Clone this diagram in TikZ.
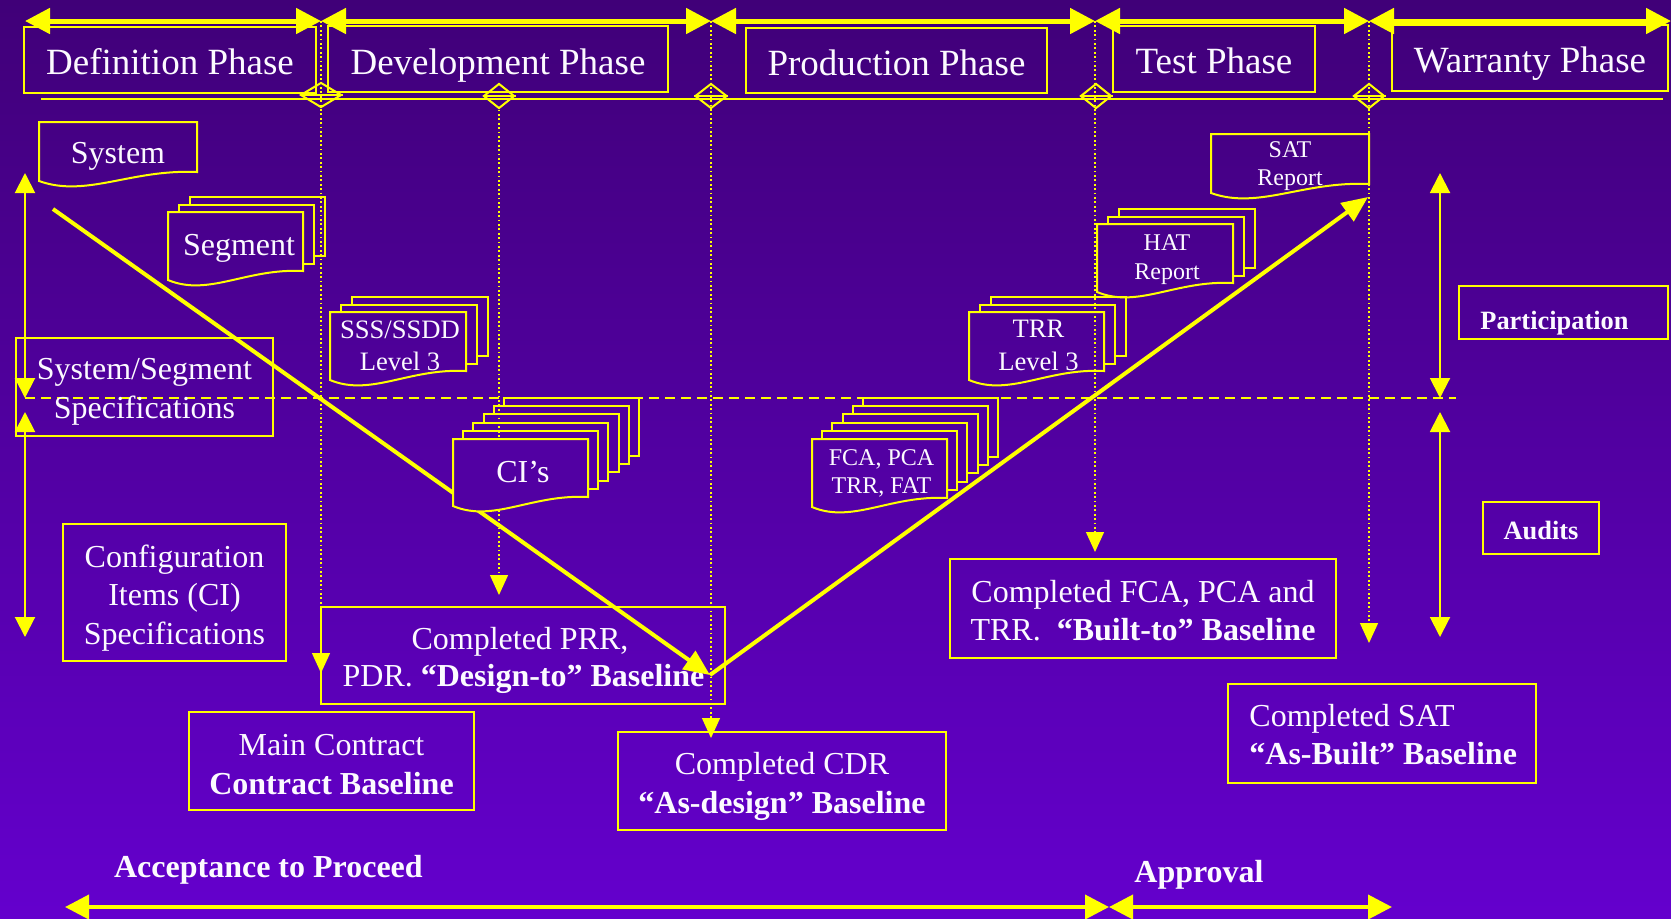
\documentclass[tikz,border=0pt]{standalone}
\usepackage{fontspec}
\setmainfont{Liberation Serif}
\usetikzlibrary{arrows.meta,fit,shapes.geometric}

\definecolor{bgtop}{RGB}{64,0,120}
\definecolor{bgbot}{RGB}{100,0,205}
\definecolor{yel}{RGB}{255,255,0}
\definecolor{txt}{RGB}{252,250,255}

\newcommand{\fsphase}{\fontsize{18.5pt}{22pt}\selectfont}
\newcommand{\fsbox}{\fontsize{16pt}{19.4pt}\selectfont}
\newcommand{\fsdoc}{\fontsize{13.3pt}{16pt}\selectfont}
\newcommand{\fsdocs}{\fontsize{12pt}{14.5pt}\selectfont}
\newcommand{\fstag}{\fontsize{13.2pt}{16pt}\selectfont\bfseries}

% visible edges of the sheets stacked behind a document
% #1 x0, #2 y0, #3 x1, #4 y1, #5 sheets, #6 dx, #7 dy
\newcommand{\sheetsbehind}[7]{%
  \foreach \k in {1,...,#5}{%
    \draw[docline] ({#1+\k*#6},{#2-(\k-1)*#7}) -- ({#1+\k*#6},{#2-\k*#7})
      -- ({#3+\k*#6},{#2-\k*#7}) -- ({#3+\k*#6},{#4-\k*#7})
      -- ({#3+(\k-1)*#6},{#4-\k*#7});
  }}
% front document sheet with a wavy lower edge
% #1 x0, #2 y0, #3 x1, #4 y1 (lower right corner), #5 extra options
\newcommand{\docsheet}[5]{%
  \draw[docline,#5] (#1,{#4+9}) -- (#1,#2) -- (#3,#2) -- (#3,#4)
    .. controls ({#1+0.58*(#3-#1)},{#4-3}) and ({#1+0.3*(#3-#1)},{#4+26}) .. (#1,{#4+9}) -- cycle;}

\tikzset{
  box/.style={draw=yel, line width=1pt, inner sep=0pt},
  txtline/.style={text=txt, inner sep=0pt, anchor=base, yshift=-1.2pt},
  phasetext/.style={txtline, font=\fsphase},
  boxtext/.style={txtline, font=\fsbox},
  doctext/.style={txtline, font=\fsdoc},
  smalldoctext/.style={txtline, font=\fsdocs},
  tagtext/.style={txtline, font=\fstag},
  docline/.style={draw=yel, line width=1pt, line join=miter},
  milestone/.style={shape=diamond, draw=yel, line width=1pt, inner sep=0pt,
    minimum width=15.5pt, minimum height=12.5pt},
  phasearrow/.style={draw=yel, line width=2.5pt,
    {Triangle[length=12.5pt,width=12.5pt]}-{Triangle[length=12.5pt,width=12.5pt]}},
  basearrow/.style={draw=yel, line width=2pt,
    {Triangle[length=12pt,width=12pt]}-{Triangle[length=12pt,width=12pt]}},
  sidearrow/.style={draw=yel, line width=1pt,
    {Triangle[length=10pt,width=10pt]}-{Triangle[length=10pt,width=10pt]}},
  dotarrow/.style={draw=yel, line width=0.7pt, dash pattern=on 0.9pt off 1.3pt,
    -{Triangle[length=10pt,width=9pt]}},
  vline/.style={draw=yel, line width=2pt, -{Triangle[length=13pt,width=11pt]}},
  dashline/.style={draw=yel, line width=0.9pt, dash pattern=on 5pt off 3pt},
  mainline/.style={draw=yel, line width=1.4pt},
}

\begin{document}
\begin{tikzpicture}[x=0.5pt,y=-0.5pt]
% background
\shade[top color=bgtop,bottom color=bgbot] (0,0) rectangle (1671,918);
\useasboundingbox (0,0) rectangle (1671,918);

% ---------- phase headers ----------
\node[box, fit={(24,27)(316,93)}] (defbox) {};
\node[box, fit={(328,26)(668,92)}] (devbox) {};
\node[box, fit={(746,28)(1047,93)}] (prodbox) {};
\node[box, fit={(1113,26)(1315,92)}] (testbox) {};
\node[box, fit={(1392,25)(1668,91)}] (warrbox) {};
\node[phasetext] (defT) at (170,72.5) {Definition Phase};
\node[phasetext] (devT) at (498,72.5) {Development Phase};
\node[phasetext] (prodT) at (896.5,73) {Production Phase};
\node[phasetext] (testT) at (1214,71.5) {Test Phase};
\node[phasetext] (warrT) at (1530,70.5) {Warranty Phase};

\coordinate (tA) at (25,21);
\coordinate (tB) at (321,21);
\coordinate (tC) at (711,21);
\coordinate (tD) at (1095,21);
\coordinate (tE) at (1369,21);
\coordinate (tF) at (1671,21);

% dotted milestone drops
\coordinate (d1) at (321,673);
\coordinate (d2) at (499,595);
\coordinate (d3) at (711,738);
\coordinate (d4) at (1095,552);
\coordinate (d5) at (1369,643);

% timeline rule
\coordinate (rl) at (41,99);
\coordinate (rr) at (1663,99);
\draw[mainline] (rl) -- (rr);

% milestone diamonds
\node[milestone, minimum width=20.5pt] (ms1) at (321,95) {};
\node[milestone] (ms2) at (499,96) {};
\node[milestone, minimum width=16pt] (ms3) at (711,96) {};
\node[milestone] (ms4) at (1096,96) {};
\node[milestone] (ms5) at (1369,96) {};
\foreach \m in {ms1,ms2,ms3,ms4,ms5}
  \draw[yel, line width=0.8pt] (\m.west) -- (\m.east);

\draw[dotarrow] (tB) -- (d1);
\draw[dotarrow] (ms2.south) -- (d2);
\draw[dotarrow] (tC) -- (d3);
\draw[dotarrow] (tD) -- (d4);
\draw[dotarrow] (tE) -- (d5);

\draw[phasearrow] (tA) -- (tB);
\draw[phasearrow] (tB) -- (tC);
\draw[phasearrow] (tC) -- (tD);
\draw[phasearrow] (tD) -- (tE);
\draw[phasearrow] (tE) -- (tF);

% ---------- participation / audits split ----------
\coordinate (dl) at (25,398);
\coordinate (dr) at (1456,398);
\draw[dashline] (dl) -- (dr);

\coordinate (lu1) at (25,173);  \coordinate (lu2) at (25,398);
\coordinate (ll1) at (25,412);  \coordinate (ll2) at (25,637);
\coordinate (ru1) at (1440,173);\coordinate (ru2) at (1440,398);
\coordinate (rl1) at (1440,412);\coordinate (rl2) at (1440,637);
\draw[sidearrow] (lu1) -- (lu2);
\draw[sidearrow] (ll1) -- (ll2);
\draw[sidearrow] (ru1) -- (ru2);
\draw[sidearrow] (rl1) -- (rl2);

\node[box, fit={(1459,286)(1668,339)}] (partbox) {};
\node[tagtext, anchor=base west] (partT) at (1480,327) {Participation};
\node[box, fit={(1483,502)(1599,554)}] (auditbox) {};
\node[tagtext] (auditT) at (1541,537) {Audits};

% ---------- baseline boxes ----------
\node[box, fit={(16,338)(273,436)}] (sysspec) {};
\node[boxtext] (sysspecA) at (144.5,377.5) {System/Segment};
\node[boxtext] (sysspecB) at (144.5,416) {Specifications};

\node[box, fit={(63,524)(286,661)}] (cispec) {};
\node[boxtext] (cispecA) at (174.5,565) {Configuration};
\node[boxtext] (cispecB) at (174.5,603.3) {Items (CI)};
\node[boxtext] (cispecC) at (174.5,641.7) {Specifications};

\node[box, fit={(189,712)(474,810)}] (mainc) {};
\node[boxtext] (maincA) at (331.5,753.3) {Main Contract};
\node[boxtext] (maincB) at (331.5,791.7) {\bfseries Contract Baseline};

\node[box, fit={(321,607)(725,704)}] (prr) {};
\node[boxtext] (prrA) at (520,646.7) {Completed PRR,};
\node[boxtext] (prrB) at (523.5,684.3) {PDR. \textbf{“Design-to” Baseline}};

\node[box, fit={(618,732)(946,830)}] (cdr) {};
\node[boxtext] (cdrA) at (782,771.7) {Completed CDR};
\node[boxtext] (cdrB) at (782,810.7) {\bfseries “As-design” Baseline};

\node[box, fit={(950,559)(1336,658)}] (fca) {};
\node[boxtext] (fcaA) at (1143,600) {Completed FCA, PCA and};
\node[boxtext] (fcaB) at (1143,637.7) {TRR.\ \ \textbf{“Built-to” Baseline}};

\node[box, fit={(1228,684)(1536,783)}] (satbox) {};
\node[boxtext, anchor=base west] (satA) at (1249,724.3) {Completed SAT};
\node[boxtext, anchor=base west] (satB) at (1249,761.7) {\bfseries “As-Built” Baseline};

% ---------- the V ----------
\coordinate (vs) at (53,209);
\coordinate (vb) at (710,675);
\coordinate (ve) at (1368,197);
\draw[vline] (vs) -- (vb);
\draw[vline] (vb) -- (ve);

% ---------- documents ----------
\docsheet{39}{122}{197}{172}{}
\node[boxtext] (sysdoc) at (118,161) {System};

\sheetsbehind{168}{212}{303}{271}{2}{11}{7.5}
\docsheet{168}{212}{303}{271}{}
\node[boxtext] (segdoc) at (239,252.7) {Segment};

\sheetsbehind{330}{312}{466}{371}{2}{11}{7.5}
\docsheet{330}{312}{466}{371}{}
\node[doctext] (sssA) at (400,336) {SSS/SSDD};
\node[doctext] (sssB) at (400,367.7) {Level 3};

\sheetsbehind{453}{439}{588}{497}{5}{10.2}{8.2}
\docsheet{453}{439}{588}{497}{fill=bgbot!51!bgtop}
\node[boxtext] (cidoc) at (523,480) {CI’s};

\sheetsbehind{812}{439}{947}{498}{5}{10.2}{8.2}
\docsheet{812}{439}{947}{498}{}
\node[smalldoctext] (fcadocA) at (881.5,462.7) {FCA, PCA};
\node[smalldoctext] (fcadocB) at (881.5,490.7) {TRR, FAT};

\sheetsbehind{969}{312}{1104}{371}{2}{11}{7.5}
\docsheet{969}{312}{1104}{371}{}
\node[doctext] (trrA) at (1038.5,335) {TRR};
\node[doctext] (trrB) at (1038.5,367.7) {Level 3};

\sheetsbehind{1097}{224}{1233}{283}{2}{11}{7.5}
\docsheet{1097}{224}{1233}{283}{}
\node[smalldoctext] (hatA) at (1167,247.7) {HAT};
\node[smalldoctext] (hatB) at (1167,276.7) {Report};

\docsheet{1211}{134}{1369}{184}{}
\node[smalldoctext] (satdocA) at (1290,155) {SAT};
\node[smalldoctext] (satdocB) at (1290,183.3) {Report};

% ---------- bottom approvals ----------
\coordinate (ba) at (65,907);
\coordinate (bb) at (1109,907);
\coordinate (bc) at (1392,907);
\draw[basearrow] (ba) -- (bb);
\draw[basearrow] (bb) -- (bc);
\node[boxtext, font=\fsbox\bfseries] (accept) at (268.4,875) {Acceptance to Proceed};
\node[boxtext, font=\fsbox\bfseries] (approval) at (1199,880) {Approval};
\end{tikzpicture}
\end{document}
